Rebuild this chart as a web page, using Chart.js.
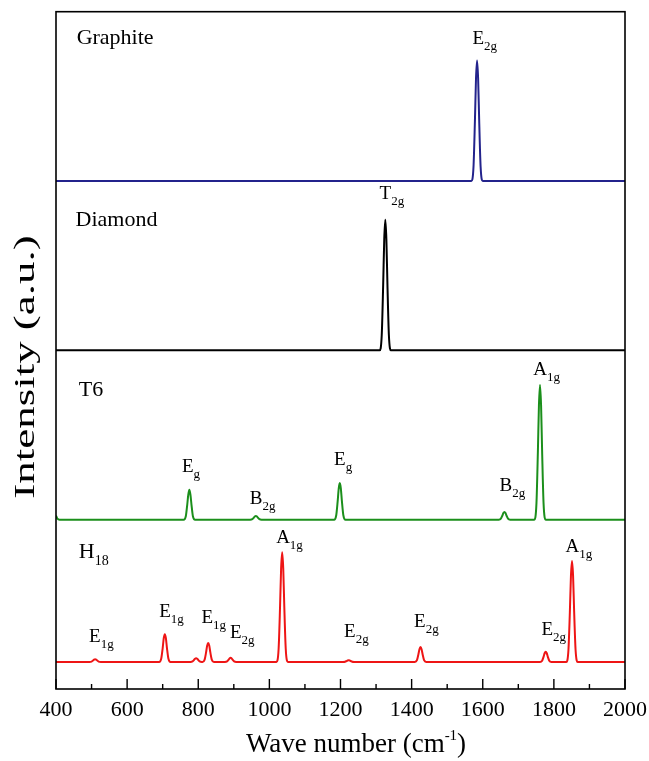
<!DOCTYPE html>
<html><head><meta charset="utf-8">
<script src="https://cdn.jsdelivr.net/npm/chart.js@4"></script>
<style>html,body{margin:0;padding:0;background:#fff;}canvas{display:block;}</style>
</head><body>
<canvas id="c" width="649" height="761"></canvas>
<script>
// ---------- data ----------
const graphiteX = [400, 1568, 1574, 1578, 1581, 1584, 1587, 1590, 1594, 1600, 2000];
const graphiteY = [0, 0, 2.1, 8.9, 15.1, 17.8, 15.1, 8.9, 2.1, 0, 0];

const diamondX = [400, 1310, 1316, 1320, 1323, 1326, 1329, 1332, 1336, 1342, 2000];
const diamondY = [0, 0, 2.3, 9.7, 16.4, 19.3, 16.4, 9.7, 2.3, 0, 0];

const t6X = [400, 404, 410,
  759, 765, 769, 772, 775, 778, 781, 785, 791,
  946, 952, 956, 959, 962, 965, 968, 972, 978,
  1182, 1188, 1192, 1195, 1198, 1201, 1204, 1208, 1214,
  1645, 1651, 1655, 1658, 1661, 1664, 1667, 1671, 1677,
  1745, 1751, 1755, 1758, 1761, 1764, 1767, 1771, 1777,
  2000];
const t6Y = [0.6, 0.15, 0,
  0, 0.5, 2.2, 3.7, 4.4, 3.7, 2.2, 0.5, 0,
  0, 0.07, 0.28, 0.47, 0.55, 0.47, 0.28, 0.07, 0,
  0, 0.65, 2.7, 4.6, 5.4, 4.6, 2.7, 0.65, 0,
  0, 0.14, 0.58, 0.98, 1.15, 0.98, 0.58, 0.14, 0,
  0, 2.4, 10, 16.9, 19.9, 16.9, 10, 2.4, 0,
  0];

const h18X = [400,
  494, 500, 504, 507, 510, 513, 516, 520, 526,
  690, 696, 700, 703, 706, 709, 712, 716, 722,
  778, 784, 788, 791, 794, 797, 800, 804, 810,
  812, 818, 822, 825, 828, 831, 834, 838, 844,
  875, 881, 885, 888, 891, 894, 897, 901, 907,
  1020, 1026, 1030, 1033, 1036, 1039, 1042, 1046, 1052,
  1207, 1213, 1217, 1220, 1223, 1226, 1229, 1233, 1239,
  1409, 1415, 1419, 1422, 1425, 1428, 1431, 1435, 1441,
  1761, 1767, 1771, 1774, 1777, 1780, 1783, 1787, 1793,
  1835, 1841, 1845, 1848, 1851, 1854, 1857, 1861, 1867,
  2000];
const h18Y = [0,
  0, 0.05, 0.2, 0.34, 0.4, 0.34, 0.2, 0.05, 0,
  0, 0.5, 2.05, 3.5, 4.1, 3.5, 2.05, 0.5, 0,
  0, 0.07, 0.28, 0.47, 0.55, 0.47, 0.28, 0.07, 0,
  0, 0.34, 1.4, 2.4, 2.8, 2.4, 1.4, 0.34, 0,
  0, 0.07, 0.3, 0.51, 0.6, 0.51, 0.3, 0.07, 0,
  0, 1.95, 8.1, 13.8, 16.2, 13.8, 8.1, 1.95, 0,
  0, 0.03, 0.13, 0.21, 0.25, 0.21, 0.13, 0.03, 0,
  0, 0.26, 1.1, 1.87, 2.2, 1.87, 1.1, 0.26, 0,
  0, 0.18, 0.75, 1.28, 1.5, 1.28, 0.75, 0.18, 0,
  0, 1.8, 7.45, 12.7, 14.9, 12.7, 7.45, 1.8, 0,
  0];

// x-axis tick labels
const xTickValues = [400, 600, 800, 1000, 1200, 1400, 1600, 1800, 2000];
const xTickLabels = ['400', '600', '800', '1000', '1200', '1400', '1600', '1800', '2000'];
const xMinorTicks = [500, 700, 900, 1100, 1300, 1500, 1700, 1900];

// panel names
const panelMain = ['Graphite', 'Diamond', 'T6', 'H'];
const panelSub  = ['', '', '', '18'];

// peak (mode) labels
const peakMain = ['E', 'T', 'E', 'B', 'E', 'B', 'A', 'E', 'E', 'E', 'E', 'A', 'E', 'E', 'E', 'A'];
const peakSub  = ['2g', '2g', 'g', '2g', 'g', '2g', '1g', '1g', '1g', '1g', '2g', '1g', '2g', '2g', '2g', '1g'];

const xTitle = 'Wave number (cm';
const xTitleSup = '-1';
const yTitle = 'Intensity (a.u.)';

// ---------- layout (positions, not data) ----------
const panelOffset = [75, 50, 25, 4];          // vertical stacking of spectra
const panelNameX = [458, 455, 464, 464];
const panelNameY = [95.3, 68.4, 43.3, 19.3];
const peakLabelX = [1571, 1310, 754, 945, 1182, 1647, 1742, 493, 690, 809, 889, 1019, 1210, 1407, 1765, 1833];
const peakLabelY = [95.3, 72.4, 32.1, 27.3, 33.0, 29.3, 46.4, 7.0, 10.7, 9.7, 7.5, 21.5, 7.7, 9.2, 8.0, 20.3];
const colors = ['#23238c', '#000000', '#1b8f1b', '#ee1515'];
const SERIF = '"Liberation Serif", "Times New Roman", serif';

function series(xs, ys, off) { return xs.map((v, i) => ({ x: v, y: ys[i] + off })); }

const seriesList = [[graphiteX, graphiteY], [diamondX, diamondY], [t6X, t6Y], [h18X, h18Y]];
const datasets = seriesList.map((s, i) => ({
  label: panelMain[i] + panelSub[i],
  data: series(s[0], s[1], panelOffset[i]),
  borderColor: colors[i],
  borderWidth: 2,
  pointRadius: 0,
  fill: false,
  cubicInterpolationMode: 'monotone'
}));

function subText(ctx, main, sub, px, py, mSize, sSize, dy) {
  ctx.font = mSize + 'px ' + SERIF;
  ctx.fillText(main, px, py);
  const w = ctx.measureText(main).width;
  if (sub) {
    ctx.font = sSize + 'px ' + SERIF;
    ctx.fillText(sub, px + w, py + dy);
  }
}

const decor = {
  id: 'decor',
  afterDraw(chart) {
    const { ctx, chartArea: a, scales: { x, y } } = chart;
    ctx.save();
    ctx.strokeStyle = '#000';
    ctx.lineWidth = 1.6;
    ctx.strokeRect(a.left, a.top, a.right - a.left, a.bottom - a.top);
    ctx.lineWidth = 1.4;
    ctx.beginPath();
    xTickValues.forEach(v => { const p = x.getPixelForValue(v); ctx.moveTo(p, a.bottom); ctx.lineTo(p, a.bottom - 10); });
    xMinorTicks.forEach(v => { const p = x.getPixelForValue(v); ctx.moveTo(p, a.bottom); ctx.lineTo(p, a.bottom - 5); });
    ctx.stroke();

    ctx.fillStyle = '#000';
    ctx.textBaseline = 'alphabetic';
    ctx.textAlign = 'left';
    panelMain.forEach((t, i) => {
      subText(ctx, t, panelSub[i], x.getPixelForValue(panelNameX[i]), y.getPixelForValue(panelNameY[i]), 22, 14, 7);
    });
    peakMain.forEach((t, i) => {
      subText(ctx, t, peakSub[i], x.getPixelForValue(peakLabelX[i]), y.getPixelForValue(peakLabelY[i]), 19, 13, 6);
    });

    // x title with superscript
    ctx.font = '27px ' + SERIF;
    const w1 = ctx.measureText(xTitle).width;
    ctx.font = '15px ' + SERIF;
    const w2 = ctx.measureText(xTitleSup).width;
    ctx.font = '27px ' + SERIF;
    const w3 = ctx.measureText(')').width;
    const total = w1 + w2 + w3;
    let sx = 356 - total / 2;
    const by = 752;
    ctx.fillText(xTitle, sx, by);
    ctx.font = '15px ' + SERIF;
    ctx.fillText(xTitleSup, sx + w1, by - 12);
    ctx.font = '27px ' + SERIF;
    ctx.fillText(')', sx + w1 + w2, by);

    // y title (rotated, stretched along its length like the reference)
    ctx.translate(34, 367);
    ctx.rotate(-Math.PI / 2);
    ctx.scale(1.55, 1);
    ctx.textAlign = 'center';
    ctx.font = '29px ' + SERIF;
    ctx.fillText(yTitle, 0, 0);
    ctx.restore();
  }
};

new Chart(document.getElementById('c'), {
  type: 'line',
  data: { datasets },
  options: {
    responsive: false,
    animation: false,
    layout: { padding: { left: 56, right: 24, top: 11.7, bottom: 0 } },
    plugins: { legend: { display: false }, tooltip: { enabled: false } },
    scales: {
      x: {
        type: 'linear', min: 400, max: 2000,
        afterBuildTicks: s => { s.ticks = xTickValues.map(v => ({ value: v })); },
        afterFit: s => { s.height = 72; s.paddingLeft = 0; s.paddingRight = 0; },
        ticks: {
          font: { family: SERIF, size: 22 }, color: '#000', padding: 8, maxRotation: 0, autoSkip: false,
          callback: (v) => { const i = xTickValues.indexOf(v); return i >= 0 ? xTickLabels[i] : ''; }
        },
        grid: { display: false, drawTicks: false },
        border: { display: false }
      },
      y: {
        display: false, min: 0, max: 100
      }
    }
  },
  plugins: [decor]
});
</script>
</body></html>
